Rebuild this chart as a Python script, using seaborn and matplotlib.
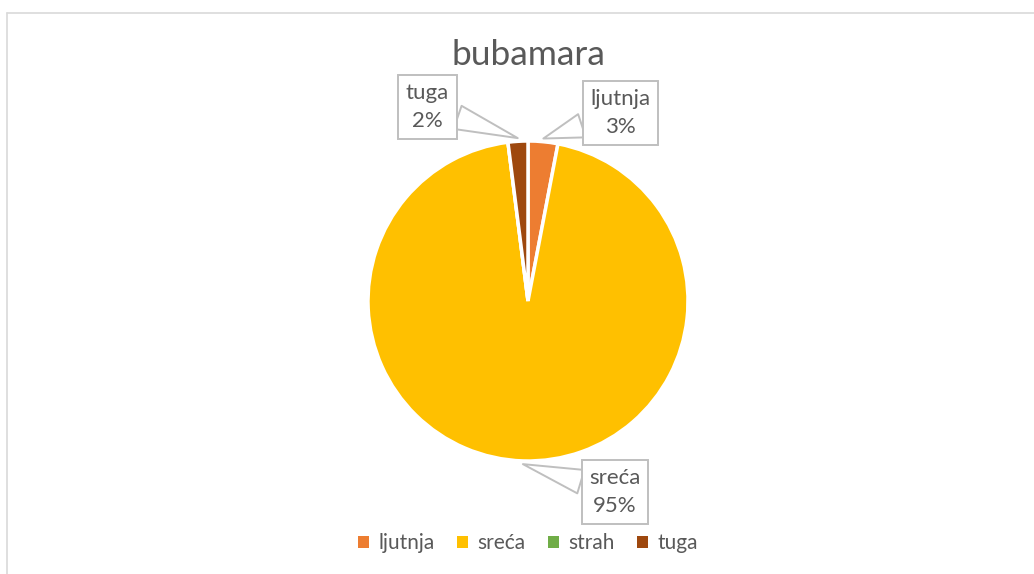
import matplotlib
matplotlib.use("Agg")
import matplotlib.pyplot as plt
import seaborn as sns
import numpy as np
from matplotlib.lines import Line2D
from matplotlib.patches import Patch

categories = ["ljutnja", "sreća", "strah", "tuga"]
values = [3, 95, 0, 2]
colors = ["#ED7D31", "#FFC000", "#70AD47", "#9E480E"]
title = "bubamara"

sns.set_theme(style="white")
plt.rcParams['font.family'] = ['Lato', 'DejaVu Sans']
TXT = "#595959"

W, H = 1034, 574
fig = plt.figure(figsize=(W / 100, H / 100), dpi=100)
cx, cy, R = 528, 301, 160
side = 400
ax = fig.add_axes([(cx - side / 2) / W, (H - cy - side / 2) / H, side / W, side / H])
lim = side / 2 / R

wedges, _ = ax.pie(values, colors=colors, startangle=90, counterclock=False,
                   wedgeprops=dict(edgecolor='white', linewidth=2.5), radius=1.0,
                   center=(0, 0), frame=False)
ax.set_xlim(-lim, lim)
ax.set_ylim(-lim, lim)
ax.set_aspect('equal')
ax.axis('off')

# label box centers in pixel positions
label_pos = {"ljutnja": (620.5, 113), "sreća": (615, 492), "tuga": (427.5, 107)}
total = sum(values)
for w, cat, v in zip(wedges, categories, values):
    if cat not in label_pos:
        continue
    ang = np.deg2rad((w.theta1 + w.theta2) / 2)
    tip = (1.02 * np.cos(ang), 1.02 * np.sin(ang))
    px, py = label_pos[cat]
    tx, ty = (px - cx) / R, (cy - py) / R
    ax.annotate(f"{cat}\n{round(100 * v / total)}%", xy=tip, xytext=(tx, ty),
                ha='center', va='center', fontsize=16, color=TXT, linespacing=1.5,
                annotation_clip=False,
                bbox=dict(boxstyle="square,pad=0.35", fc='white', ec='#BFBFBF', lw=1.4),
                arrowprops=dict(arrowstyle="wedge,tail_width=1.1,shrink_factor=0.5",
                                fc='white', ec='#BFBFBF', lw=1.4,
                                shrinkA=0, shrinkB=0))

fig.text(cx / W, 1 - 55 / H, title, ha='center', va='center', fontsize=25.5, color=TXT)

handles = [Patch(facecolor=c, edgecolor='none') for c in colors]
fig.legend(handles, categories, loc='center', bbox_to_anchor=(cx / W, 1 - 543 / H),
           ncol=4, frameon=False, fontsize=15, labelcolor=TXT,
           handlelength=0.5, handleheight=0.5, handletextpad=0.45, columnspacing=1.1)

# chart area border (top and left visible)
fig.add_artist(Line2D([7 / W, 1.0], [1 - 13 / H, 1 - 13 / H], color='#D9D9D9', lw=1.2,
                      transform=fig.transFigure))
fig.add_artist(Line2D([7 / W, 7 / W], [0.0, 1 - 13 / H], color='#D9D9D9', lw=1.2,
                      transform=fig.transFigure))

fig.savefig("out.png", dpi=100, facecolor='white')
